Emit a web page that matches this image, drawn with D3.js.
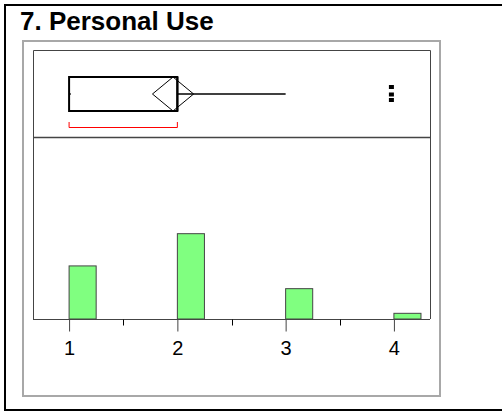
<!DOCTYPE html>
<html>
<head>
<meta charset="utf-8">
<script src="https://cdn.jsdelivr.net/npm/d3@7"></script>
<style>
  body { margin: 0; background: #fff; }
  svg { display: block; }
</style>
</head>
<body>
<svg id="chart" width="502" height="411"></svg>
<script>
// Response levels and how many answered each.
const levels = [1, 2, 3, 4];
const counts = [28, 45, 16, 3];
const tickLabels = ['1', '2', '3', '4'];
const minorTicks = [1.5, 2.5, 3.5];

// Box plot summary: [min whisker, q1, median, q3, max whisker].
const boxStats = [1, 1, 2, 2, 3];
// Means diamond: [lower 95%, mean, upper 95%].
const meanDiamond = [1.77, 1.96, 2.15];
const shortestHalf = [1, 2];
const outliers = [4, 4, 4];
const outlierJitter = [-7, 0.5, 6];

const title = '7. Personal Use';

const width = 502;
const height = 411;
const plot = {left: 33, right: 430, top: 50, split: 137, bottom: 319};
const green = '#80ff80';
const barWidth = 0.25;

const svg = d3.select('#chart');

// Outer cell border (right edge falls outside the picture).
svg.append('path')
  .attr('d', `M${width + 2},5H5V410H${width + 2}`)
  .attr('fill', 'none').attr('stroke', '#000').attr('stroke-width', 2);

svg.append('text')
  .attr('x', 20).attr('y', 30)
  .attr('font-family', 'Liberation Sans, Arial, sans-serif')
  .attr('font-weight', 'bold')
  .attr('font-size', '26px')
  .attr('fill', '#000')
  .text(title);

// Gray report frame.
svg.append('rect')
  .attr('x', 23).attr('y', 41)
  .attr('width', 417).attr('height', 355)
  .attr('fill', 'none').attr('stroke', '#a8a8a8').attr('stroke-width', 2);

const x = d3.scaleLinear()
  .domain([2 / 3, 13 / 3])
  .range([plot.left, plot.right]);
const y = d3.scaleLinear()
  .domain([0, 96])
  .range([plot.bottom, plot.split]);

// Plot frame and divider between box plot and histogram.
const frame = svg.append('g').attr('fill', 'none').attr('stroke', '#444');
frame.append('path')
  .attr('d', `M${plot.left + 0.5},${plot.bottom}V${plot.top + 0.5}H${plot.right + 0.5}V${plot.bottom}`);
frame.append('line')
  .attr('x1', plot.left).attr('x2', plot.right + 0.5)
  .attr('y1', plot.split + 0.5).attr('y2', plot.split + 0.5)
  .attr('stroke-width', 1.5);

// Histogram bars.
svg.append('g')
  .selectAll('rect')
  .data(levels)
  .join('rect')
  .attr('x', (d) => x(d))
  .attr('y', (d, i) => y(counts[i]))
  .attr('width', (d) => x(d + barWidth) - x(d))
  .attr('height', (d, i) => y(0) - y(counts[i]))
  .attr('fill', green)
  .attr('stroke', '#444')
  .attr('stroke-width', 1);

// X axis with major ticks and half-step minor ticks.
const xAxis = d3.axisBottom(x)
  .tickValues(levels)
  .tickFormat((d, i) => tickLabels[i])
  .tickSize(12)
  .tickPadding(9);
const axisG = svg.append('g')
  .attr('transform', `translate(0,${plot.bottom + 0.5})`)
  .call(xAxis);
axisG.select('.domain').attr('stroke', '#444').attr('d', `M${plot.left},0H${plot.right}`);
axisG.selectAll('.tick line').attr('stroke', '#444');
axisG.selectAll('.tick text')
  .attr('font-family', 'Liberation Sans, Arial, sans-serif')
  .attr('font-size', '20px')
  .attr('fill', '#000');
axisG.append('g')
  .selectAll('line')
  .data(minorTicks)
  .join('line')
  .attr('x1', (d) => Math.round(x(d)) + 0.5)
  .attr('x2', (d) => Math.round(x(d)) + 0.5)
  .attr('y1', 0).attr('y2', 6)
  .attr('stroke', '#000');

// Outlier box plot.
const boxY = 94;
const boxH = 34;
const box = svg.append('g').attr('fill', 'none').attr('stroke', '#000');
box.append('rect')
  .attr('x', x(boxStats[1])).attr('y', boxY - boxH / 2)
  .attr('width', x(boxStats[3]) - x(boxStats[1])).attr('height', boxH)
  .attr('stroke-width', 2);
box.append('line')
  .attr('x1', x(boxStats[2])).attr('x2', x(boxStats[2]))
  .attr('y1', boxY - boxH / 2).attr('y2', boxY + boxH / 2)
  .attr('stroke-width', 2);
box.append('line')
  .attr('x1', x(boxStats[3])).attr('x2', x(boxStats[4]))
  .attr('y1', boxY).attr('y2', boxY)
  .attr('stroke-width', 1.5);
box.append('line')
  .attr('x1', x(boxStats[0])).attr('x2', x(boxStats[1]) + 1.5)
  .attr('y1', boxY).attr('y2', boxY)
  .attr('stroke-width', 2);

// Means diamond.
box.append('path')
  .attr('d', `M${x(meanDiamond[0])},${boxY}L${x(meanDiamond[1])},${boxY - boxH / 2}` +
    `L${x(meanDiamond[2])},${boxY}L${x(meanDiamond[1])},${boxY + boxH / 2}Z`)
  .attr('stroke-width', 1);

// Shortest half bracket.
svg.append('path')
  .attr('d', `M${x(shortestHalf[0])},122V127.5H${x(shortestHalf[1])}V122`)
  .attr('fill', 'none')
  .attr('stroke', '#ff0000')
  .attr('stroke-width', 1);

// Outlier points.
svg.append('g')
  .selectAll('rect')
  .data(outliers)
  .join('rect')
  .attr('x', (d) => x(d) - 5)
  .attr('y', (d, i) => boxY + outlierJitter[i] - 2)
  .attr('width', 5)
  .attr('height', 4)
  .attr('fill', '#000');
</script>
</body>
</html>
